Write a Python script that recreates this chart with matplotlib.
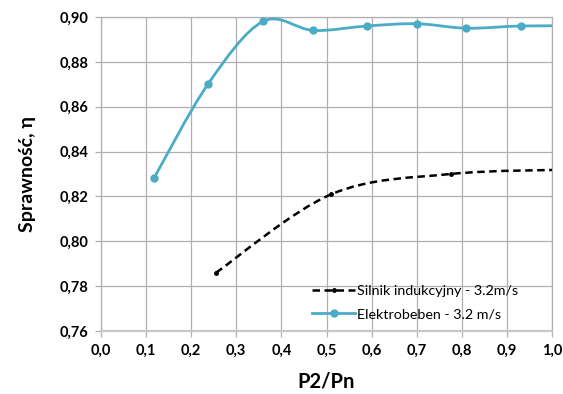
import matplotlib
matplotlib.use("Agg")
import matplotlib.pyplot as plt
import numpy as np
from matplotlib.path import Path
from matplotlib.patches import PathPatch
from matplotlib.lines import Line2D

# Data
elektro_x = [0.117, 0.237, 0.359, 0.471, 0.590, 0.701, 0.810, 0.931, 1.05]
elektro_y = [0.828, 0.870, 0.898, 0.894, 0.896, 0.897, 0.895, 0.896, 0.896]
silnik_x = [0.255, 0.511, 0.775, 1.05]
silnik_y = [0.786, 0.821, 0.830, 0.832]
x_ticks = [0.0, 0.1, 0.2, 0.3, 0.4, 0.5, 0.6, 0.7, 0.8, 0.9, 1.0]
y_ticks = [0.76, 0.78, 0.80, 0.82, 0.84, 0.86, 0.88, 0.90]
label_silnik = "Silnik indukcyjny - 3.2m/s"
label_elektro = "Elektrobeben - 3.2 m/s"

BLUE = "#4BACC6"
plt.rcParams['font.family'] = ['Lato', 'DejaVu Sans']

fig = plt.figure(figsize=(5.63, 3.94), dpi=100)
ax = fig.add_axes([101/563, 1-331/394, 451/563, 314/394])


def smooth_path(xs, ys):
    pts = np.column_stack([xs, ys])
    n = len(pts)
    verts = [pts[0]]
    codes = [Path.MOVETO]
    for i in range(n - 1):
        p0 = pts[i - 1] if i > 0 else pts[i]
        p1 = pts[i]
        p2 = pts[i + 1]
        p3 = pts[i + 2] if i + 2 < n else pts[i + 1]
        c1 = p1 + (p2 - p0) / 6.0
        c2 = p2 - (p3 - p1) / 6.0
        verts += [c1, c2, p2]
        codes += [Path.CURVE4] * 3
    return Path(verts, codes)


DASH = (0, (3.0, 1.8))
ax.add_patch(PathPatch(smooth_path(elektro_x, elektro_y), fill=False,
                       edgecolor=BLUE, lw=2.0, zorder=3, capstyle='butt'))
ax.plot(elektro_x, elektro_y, 'o', color=BLUE, ms=5, zorder=4)

ax.add_patch(PathPatch(smooth_path(silnik_x, silnik_y), fill=False,
                       edgecolor='black', lw=1.8, ls=DASH, zorder=3))
ax.plot(silnik_x, silnik_y, 'o', color='black', ms=2.5, zorder=4)

ax.set_xlim(0, 1.0)
ax.set_ylim(0.76, 0.90)
ax.set_xticks(x_ticks)
ax.set_yticks(y_ticks)
ax.set_xticklabels([f"{v:.1f}".replace('.', ',') for v in x_ticks],
                   fontsize=10.5, fontweight='bold')
ax.set_yticklabels([f"{v:.2f}".replace('.', ',') for v in y_ticks],
                   fontsize=10.5, fontweight='bold')
ax.grid(True, color='#b0b0b0', lw=0.9)
ax.set_axisbelow(True)
for s in ax.spines.values():
    s.set_color('#b0b0b0')
    s.set_linewidth(0.9)
ax.spines['bottom'].set_color('#c8c8c8')
ax.spines['bottom'].set_linewidth(1.6)
ax.tick_params(axis='both', color='#b0b0b0', length=4, width=0.9, pad=5)

ax.set_xlabel("P2/Pn", fontsize=14.5, fontweight='bold', labelpad=10)
ax.set_ylabel("Sprawność, η", fontsize=14, fontweight='bold', labelpad=17)

handles = [
    Line2D([0], [0], color='black', lw=1.8, ls=DASH, marker='o', ms=2.5),
    Line2D([0], [0], color=BLUE, lw=2.0, marker='o', ms=5),
]
ax.legend(handles, [label_silnik, label_elektro], loc='center left',
          bbox_to_anchor=(0.44, 0.09), frameon=False, fontsize=10.3,
          handlelength=3.0, handletextpad=0.15, labelspacing=0.8)

fig.savefig("out.png", dpi=100)
